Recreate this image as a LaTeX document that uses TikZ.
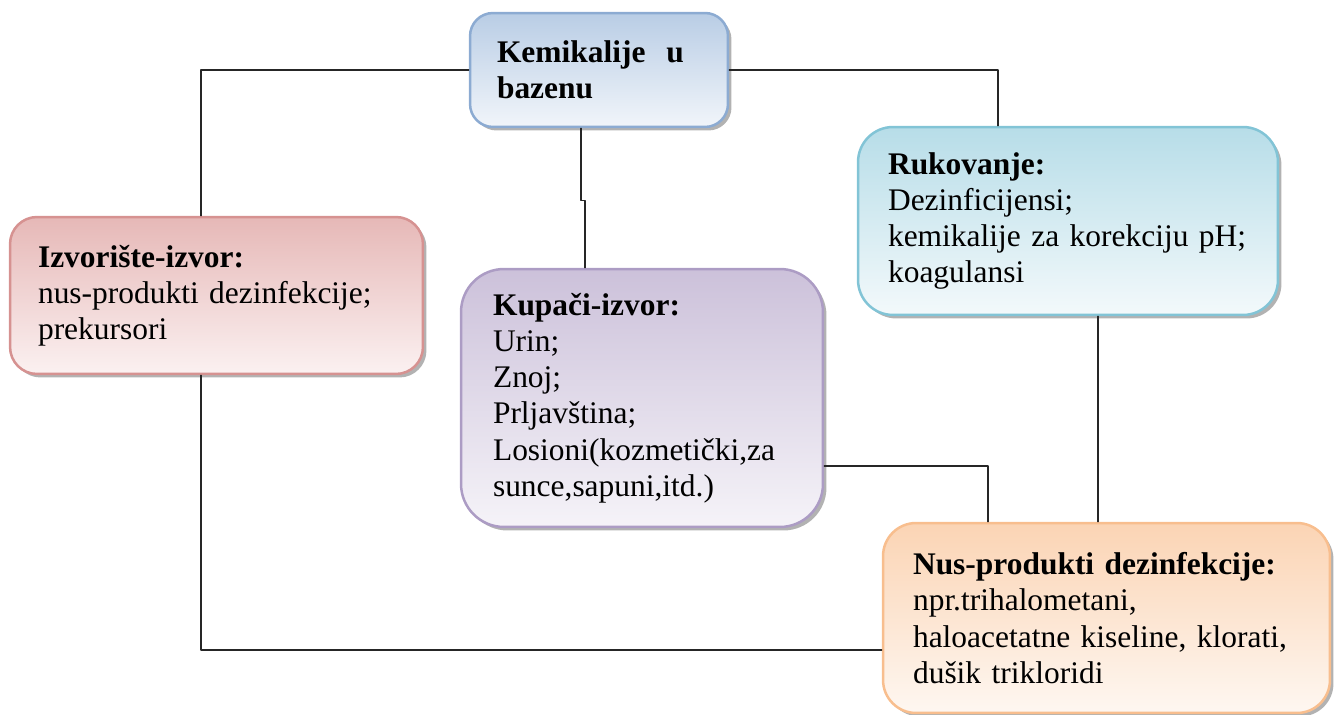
\documentclass[tikz,border=0pt]{standalone}
\usepackage{fontspec}
\setmainfont{Liberation Serif}
\usetikzlibrary{shadows}

\definecolor{kemtop}{RGB}{185,205,229}
\definecolor{kembot}{RGB}{241,245,250}
\definecolor{kemline}{RGB}{140,171,210}
\definecolor{buktop}{RGB}{183,221,232}
\definecolor{bukbot}{RGB}{243,249,251}
\definecolor{bukline}{RGB}{130,196,214}
\definecolor{izvtop}{RGB}{230,184,183}
\definecolor{izvbot}{RGB}{251,241,241}
\definecolor{izvline}{RGB}{214,146,145}
\definecolor{kuptop}{RGB}{204,193,218}
\definecolor{kupbot}{RGB}{245,243,248}
\definecolor{kupline}{RGB}{172,156,196}
\definecolor{nustop}{RGB}{251,212,180}
\definecolor{nusbot}{RGB}{254,247,241}
\definecolor{nusline}{RGB}{248,190,142}

\tikzset{
  box/.style = {draw = #1line, top color = #1top, bottom color = #1bot,
    line width = 0.05cm, align = left, inner ysep = 0.1cm,
    font = \fontsize{17.9pt}{20.6pt}\selectfont,
    drop shadow = {shadow xshift = 0.07cm, shadow yshift = -0.07cm,
      fill = black!55, opacity = 0.55}},
  link/.style = {draw = black!85, line width = 0.6pt}
}

\begin{document}
\begin{tikzpicture}[x = 0.02cm, y = -0.02cm, line cap = round, line join = round]
  \useasboundingbox (0, 0) rectangle (1334, 715);

  \node[box = kem, rounded corners = 0.46cm, minimum width = 5.16cm, minimum height = 2.28cm,
    text width = 4.08cm, inner xsep = 0.54cm] (kem) at (599, 70)
    {\textbf{Kemikalije\ \ u}\\ \textbf{bazenu}};

  \node[box = buk, rounded corners = 0.7cm, minimum width = 8.4cm, minimum height = 3.76cm,
    text width = 7.2cm, inner xsep = 0.6cm] (ruk) at (1068, 221)
    {\textbf{Rukovanje:}\\ Dezinficijensi;\\ kemikalije za korekciju pH;\\ koagulansi};

  \node[box = izv, rounded corners = 0.54cm, minimum width = 8.26cm, minimum height = 3.14cm,
    text width = 7.14cm, inner xsep = 0.56cm] (izv) at (216.5, 295.5)
    {\textbf{Izvorište-izvor:}\\ nus-produkti dezinfekcije;\\ prekursori};

  \node[box = kup, rounded corners = 0.86cm, minimum width = 7.24cm, minimum height = 5.16cm,
    text width = 5.96cm, inner xsep = 0.64cm] (kup) at (642, 398)
    {\textbf{Kupači-izvor:}\\ Urin;\\ Znoj;\\ Prljavština;\\ Losioni(kozmetički,za\\ sunce,sapuni,itd.)};

  \node[box = nus, rounded corners = 0.66cm, minimum width = 8.94cm, minimum height = 3.8cm,
    text width = 7.74cm, inner xsep = 0.6cm] (nus) at (1106.5, 618)
    {\textbf{Nus-produkti dezinfekcije:}\\ npr.trihalometani,\\ haloacetatne kiseline, klorati,\\ dušik trikloridi};

  % vodovi
  \coordinate (lijevo) at (201, 0);
  \coordinate (desno) at (998, 0);
  \coordinate (sredina) at (581, 0);
  \coordinate (kupx) at (585, 0);
  \coordinate (dno) at (0, 650);
  \coordinate (losioni) at (0, 466);
  \coordinate (nusx) at (988, 0);
  \coordinate (rukx) at (1098, 0);

  \draw[link] (kem.west) -| (izv.north -| lijevo);
  \draw[link] (kem.east) -| (ruk.north -| desno);
  \draw[link] (kem.south -| sredina) -- ++(0, 72) -| (kup.north -| kupx);
  \draw[link] (izv.south -| lijevo) |- (nus.west |- dno);
  \draw[link] (kup.east |- losioni) -| (nus.north -| nusx);
  \draw[link] (ruk.south -| rukx) -- (nus.north -| rukx);
\end{tikzpicture}
\end{document}
